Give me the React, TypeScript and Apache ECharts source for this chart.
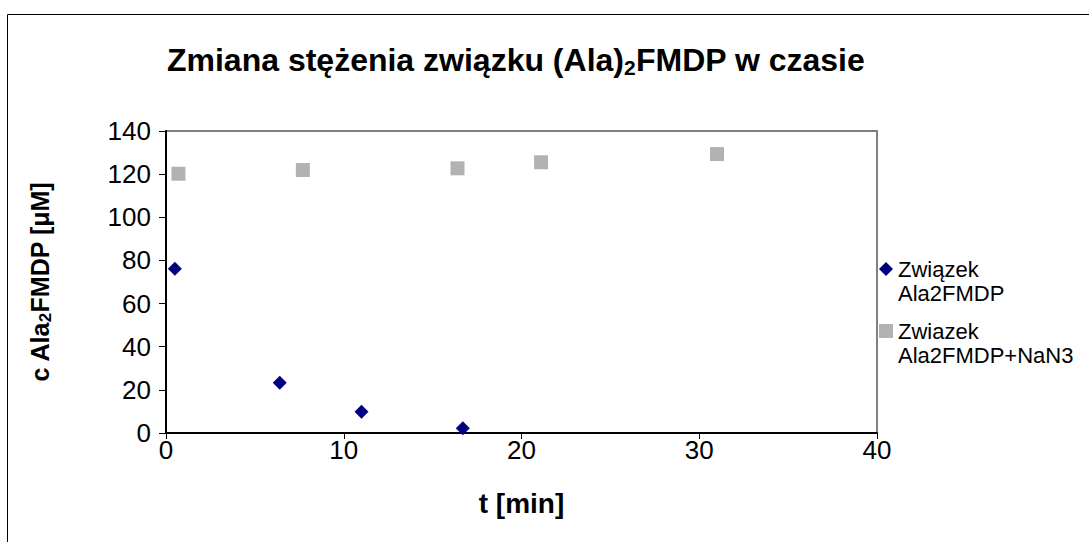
import React, { useEffect, useRef } from "react";
import * as echarts from "echarts";

const seriesNames = ["Związek\nAla2FMDP", "Zwiazek\nAla2FMDP+NaN3"];
const timeA = [0.5, 6.4, 11.0, 16.7];
const concA = [76.2, 23.3, 9.8, 2.2];
const timeB = [0.7, 7.7, 16.4, 21.1, 31.0];
const concB = [120.2, 121.9, 122.7, 125.5, 129.3];
const xTicks = { min: 0, max: 40, interval: 10 };
const yTicks = { min: 0, max: 140, interval: 20 };

const FONT = "Liberation Sans, Arial, sans-serif";

export default function App() {
  const ref = useRef<HTMLDivElement>(null);
  useEffect(() => {
    document.body.style.margin = "0";
    const chart = echarts.init(ref.current!, null, { renderer: "svg" });
    const legendText = {
      fontSize: 22,
      fontFamily: FONT,
      color: "#000",
      lineHeight: 24,
    };
    chart.setOption({
      animation: false,
      backgroundColor: "#ffffff",
      textStyle: { fontFamily: FONT },
      title: {
        text: "{t|Zmiana stężenia związku (Ala)}{s|2}{t|FMDP w czasie}",
        left: 511,
        top: 36,
        textAlign: "center",
        textStyle: {
          rich: {
            t: { fontSize: 32, fontWeight: "bold", color: "#000", fontFamily: FONT },
            s: { fontSize: 21, fontWeight: "bold", color: "#000", fontFamily: FONT, padding: [16, 0, 0, 0] },
          },
        },
      },
      graphic: [
        {
          type: "rect",
          shape: { x: 7.5, y: 14.5, width: 1200, height: 700 },
          style: { fill: "none", stroke: "#000", lineWidth: 1 },
          silent: true,
          z: -10,
        },
      ],
      grid: {
        left: 166,
        top: 131,
        right: 212,
        bottom: 109,
        show: true,
        borderColor: "#808080",
        borderWidth: 2,
        backgroundColor: "transparent",
      },
      legend: [
        {
          left: 879,
          top: 233,
          padding: 0,
          itemWidth: 14,
          itemHeight: 14,
          data: [{ name: seriesNames[0], icon: "diamond" }],
          formatter: (n: string) => "\n" + n,
          textStyle: legendText,
        },
        {
          left: 879,
          top: 295,
          padding: 0,
          itemWidth: 14,
          itemHeight: 14,
          data: [{ name: seriesNames[1], icon: "rect" }],
          formatter: (n: string) => "\n" + n,
          textStyle: legendText,
        },
      ],
      xAxis: {
        type: "value",
        min: xTicks.min,
        max: xTicks.max,
        interval: xTicks.interval,
        name: "t [min]",
        nameLocation: "middle",
        nameGap: 56,
        nameTextStyle: { fontSize: 28, fontWeight: "bold", color: "#000", fontFamily: FONT },
        axisLine: { lineStyle: { color: "#000", width: 2 } },
        axisTick: { show: true, length: 6, lineStyle: { color: "#000" } },
        axisLabel: { fontSize: 26, color: "#000", margin: 4, fontFamily: FONT },
        splitLine: { show: false },
      },
      yAxis: {
        type: "value",
        min: yTicks.min,
        max: yTicks.max,
        interval: yTicks.interval,
        name: "{t|c Ala}{s|2}{t|FMDP [μM]}",
        nameLocation: "middle",
        nameGap: 112,
        nameRotate: 90,
        nameTextStyle: {
          rich: {
            t: { fontSize: 25, fontWeight: "bold", color: "#000", fontFamily: FONT },
            s: { fontSize: 17, fontWeight: "bold", color: "#000", fontFamily: FONT, padding: [12, 0, 0, 0] },
          },
        },
        axisLine: { show: true, lineStyle: { color: "#000", width: 2 } },
        axisTick: { show: true, length: 7, lineStyle: { color: "#000" } },
        axisLabel: { fontSize: 26, color: "#000", margin: 15, fontFamily: FONT },
        splitLine: { show: false },
      },
      series: [
        {
          name: seriesNames[0],
          type: "scatter",
          symbol: "diamond",
          symbolSize: 14,
          itemStyle: { color: "#000080", opacity: 1 },
          data: timeA.map((t, i) => [t, concA[i]]),
        },
        {
          name: seriesNames[1],
          type: "scatter",
          symbol: "rect",
          symbolSize: 14,
          itemStyle: { color: "#b2b2b2", opacity: 1 },
          data: timeB.map((t, i) => [t, concB[i]]),
        },
      ],
    });
    return () => chart.dispose();
  }, []);
  return <div ref={ref} style={{ width: 1089, height: 542 }} />;
}
